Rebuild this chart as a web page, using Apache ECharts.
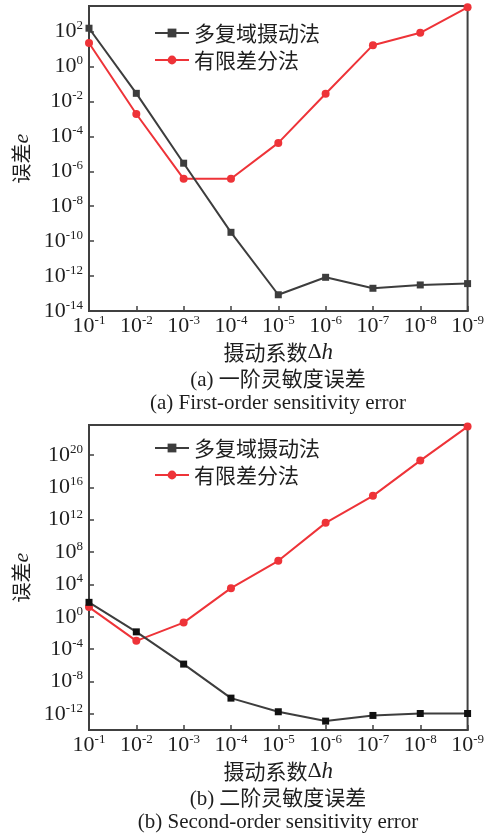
<!DOCTYPE html>
<html><head><meta charset="utf-8">
<script src="https://cdn.jsdelivr.net/npm/echarts@6/dist/echarts.min.js"></script>
<style>html,body{margin:0;padding:0;background:#fff}#c{width:487px;height:835px}</style>
</head><body><div id="c"></div>
<script>
// ---- data ----
const categories = ['10^-1','10^-2','10^-3','10^-4','10^-5','10^-6','10^-7','10^-8','10^-9'];
const legendNames = ['多复域摄动法', '有限差分法'];
const firstOrderMCSM = [155, 0.029, 2.9e-6, 3.2e-10, 8.5e-14, 8.5e-13, 2.0e-13, 3.1e-13, 3.7e-13];
const firstOrderFDM  = [21.9, 1.9e-3, 3.7e-7, 3.7e-7, 4.2e-5, 0.0275, 16.6, 85, 2450];
const secondOrderMCSM = [60, 0.0135, 1.4e-6, 8.7e-11, 1.8e-12, 1.26e-13, 6.3e-13, 1.1e-12, 1.1e-12];
const secondOrderFDM  = [15.5, 1.05e-3, 0.19, 3.4e3, 8.1e6, 4.0e11, 8.7e14, 2.0e19, 3.2e23];
const xAxisName = '摄动系数Δh';
const yAxisName = '误差e';
const captionsA = ['(a) 一阶灵敏度误差', '(a) First-order sensitivity error'];
const captionsB = ['(b) 二阶灵敏度误差', '(b) Second-order sensitivity error'];

// ---- styles ----
const SERIF = '"Liberation Serif", "Noto Sans CJK SC", serif';
const CJK = '"Noto Sans CJK SC", "Liberation Serif", sans-serif';
const AX = '#404040';
const TXT = '#1e1e1e';
const RED = '#ee3338';
const DARK = '#3d3d3d';

const powRich = {
  b: {fontFamily: SERIF, fontSize: 22, lineHeight: 24, color: TXT},
  s: {fontFamily: SERIF, fontSize: 13, lineHeight: 13, verticalAlign: 'top', color: TXT}
};
function catLabel(v) {
  const p = String(v).split('^');
  return '{b|' + p[0] + '}{s|' + p[1] + '}';
}
function logLabel(v) {
  const e = Math.round(Math.log10(v));
  return '{b|10}{s|' + e + '}';
}
const xNameRich = {
  z: {fontFamily: CJK, fontSize: 21, color: TXT},
  d: {fontFamily: SERIF, fontSize: 22, color: TXT},
  h: {fontFamily: SERIF, fontSize: 23, fontStyle: 'italic', color: TXT}
};
const yNameRich = {
  z: {fontFamily: CJK, fontSize: 20, color: TXT},
  e: {fontFamily: SERIF, fontSize: 22, fontStyle: 'italic', color: TXT}
};

const gridTops = [6, 425];
const grids = gridTops.map(t => ({
  left: 89, top: t, width: 379, height: 305, show: true,
  borderColor: AX, borderWidth: 2, backgroundColor: 'transparent'
}));

const xAxes = [0, 1].map(i => ({
  gridIndex: i, type: 'category', data: categories, boundaryGap: false,
  axisLine: {lineStyle: {color: AX, width: 2}},
  axisTick: {inside: true, length: 5, alignWithLabel: true, interval: 0, lineStyle: {color: AX, width: 1.5}},
  axisLabel: {margin: 3, interval: 0, hideOverlap: false, formatter: catLabel, rich: powRich},
  name: '{z|摄动系数}{d|Δ}{h|h}', nameLocation: 'middle', nameGap: 30,
  nameTextStyle: {rich: xNameRich}
}));

function yAxis(i, base, max, showMin) {
  return {
    gridIndex: i, type: 'log', logBase: base, min: 1e-14, max: max, splitNumber: 10,
    axisLine: {show: true, lineStyle: {color: AX, width: 2}},
    axisTick: {show: true, inside: true, length: 5, lineStyle: {color: AX, width: 1.5}},
    splitLine: {show: false},
    axisLabel: {margin: 6, showMinLabel: showMin, showMaxLabel: false, formatter: logLabel, rich: powRich},
    name: '{z|误差}{e|e}', nameLocation: 'middle', nameRotate: 90, nameGap: 56,
    nameTextStyle: {rich: yNameRich}
  };
}

function lineSeries(name, data, idx, isRed, mk) {
  return {
    name: name, type: 'line', xAxisIndex: idx, yAxisIndex: idx, data: data,
    symbol: isRed ? 'circle' : 'rect', symbolSize: isRed ? 8 : 7,
    lineStyle: {color: isRed ? RED : DARK, width: 2},
    itemStyle: {color: isRed ? RED : (mk || DARK)},
    z: isRed ? 3 : 4
  };
}

function legend(top) {
  return {
    top: top, left: 154, padding: 0, orient: 'vertical', itemWidth: 34, itemHeight: 11, itemGap: 5,
    textStyle: {fontSize: 21, lineHeight: 22, fontFamily: CJK, color: TXT},
    data: legendNames
  };
}

function caption(y, text) {
  return {type: 'text', x: 278, y: y, style: {text: text, fontSize: 21, fontFamily: SERIF, fill: TXT, align: 'center', verticalAlign: 'middle', textAlign: 'center', textVerticalAlign: 'middle'}};
}

const chart = echarts.init(document.getElementById('c'));
chart.setOption({
  animation: false,
  backgroundColor: '#fff',
  grid: grids,
  xAxis: xAxes,
  yAxis: [yAxis(0, 100, 2900, true), yAxis(1, 10000, 5e23, false)],
  legend: [legend(22), legend(437)],
  series: [
    lineSeries(legendNames[0], firstOrderMCSM, 0, false),
    lineSeries(legendNames[1], firstOrderFDM, 0, true),
    lineSeries(legendNames[0], secondOrderMCSM, 1, false, '#111'),
    lineSeries(legendNames[1], secondOrderFDM, 1, true)
  ],
  graphic: [
    caption(380, captionsA[0]), caption(403, captionsA[1]),
    caption(799, captionsB[0]), caption(822, captionsB[1])
  ]
});
</script></body></html>
